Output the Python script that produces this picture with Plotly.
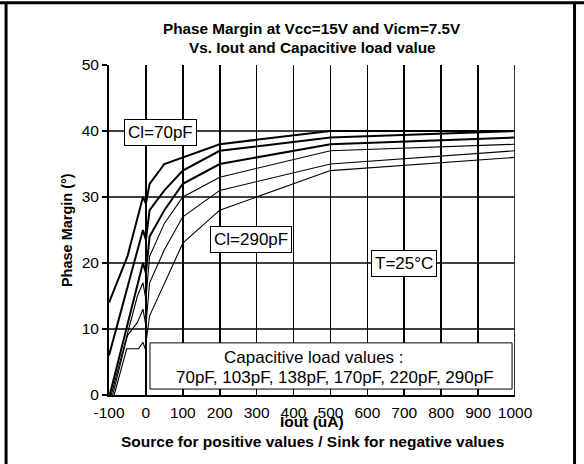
import plotly.graph_objects as go

# ---- data ----
x_70 = [-100, -50, -8, 0, 10, 50, 200, 500, 1000]
y_70 = [14, 21, 30, 29, 32, 35, 38, 40, 40]

x_103 = [-100, -8, 0, 10, 50, 100, 200, 500, 1000]
y_103 = [6, 25, 23.5, 28, 31, 34, 37, 39, 40]

x_138 = [-98, -8, 0, 10, 50, 100, 200, 500, 1000]
y_138 = [0, 20, 18.5, 24, 28, 32, 35, 38, 39]

x_170 = [-94, -23, -8, 0, 10, 50, 100, 200, 500, 1000]
y_170 = [0, 15, 17, 14.5, 21, 26, 30, 33, 37, 38]

x_220 = [-90, -50, -23, -8, 0, 10, 50, 100, 200, 500, 1000]
y_220 = [0, 9, 11, 13, 10.5, 17, 22, 27, 31, 35, 37]

x_290 = [-86, -52, -20, -8, -2, 10, 100, 200, 500, 1000]
y_290 = [0, 7, 7, 8, 7, 12, 23, 28, 34, 36]

series_names = ["70pF", "103pF", "138pF", "170pF", "220pF", "290pF"]
series_x = [x_70, x_103, x_138, x_170, x_220, x_290]
series_y = [y_70, y_103, y_138, y_170, y_220, y_290]
series_width = [2, 2, 2, 1.1, 1.1, 1.1]

x_ticks = [-100, 0, 100, 200, 300, 400, 500, 600, 700, 800, 900, 1000]
x_ticklabels = [str(v) for v in x_ticks]
y_ticks = [0, 10, 20, 30, 40, 50]
y_ticklabels = [str(v) for v in y_ticks]

title_lines = ["Phase Margin at Vcc=15V and Vicm=7.5V", "Vs. Iout and Capacitive load value"]
x_title_lines = ["Iout (uA)", "Source for positive values / Sink for negative values"]
y_title = "Phase Margin (°)"
legend_lines = ["Capacitive load values :", "70pF, 103pF, 138pF, 170pF, 220pF, 290pF"]

FONT = "Arial, Liberation Sans, sans-serif"

fig = go.Figure()
for name, xs, ys, w in zip(series_names, series_x, series_y, series_width):
    fig.add_trace(go.Scatter(x=xs, y=ys, mode="lines", name=name,
                             line=dict(color="black", width=w),
                             showlegend=False, hoverinfo="skip"))

shapes = []
# horizontal grid lines (no line on top edge)
for yv in y_ticks:
    if 0 < yv < 50:
        shapes.append(dict(type="line", xref="paper", yref="y", x0=0, x1=1, y0=yv, y1=yv,
                           line=dict(color="black", width=1.6), layer="below"))
# right border of plot
shapes.append(dict(type="line", xref="x", yref="paper", x0=1000, x1=1000, y0=0, y1=1,
                   line=dict(color="#333333", width=2), layer="below"))
# legend-like box
shapes.append(dict(type="rect", xref="x", yref="y", x0=11, x1=992, y0=0.9, y1=7.9,
                   fillcolor="white", line=dict(color="black", width=1), layer="above"))
# page frame
shapes.append(dict(type="line", xref="paper", yref="paper", x0=-0.3, x1=1.2, y0=1.1888, y1=1.1888,
                   line=dict(color="black", width=3)))
shapes.append(dict(type="line", xref="paper", yref="paper", x0=-0.2535, x1=-0.2535, y0=-0.3, y1=1.19,
                   line=dict(color="black", width=3)))
shapes.append(dict(type="line", xref="paper", yref="paper", x0=1.1466, x1=1.1466, y0=-0.3, y1=1.19,
                   line=dict(color="black", width=3)))

bold_axis = dict(family=FONT, size=15.5, color="black", weight="bold")
bold_y = dict(family=FONT, size=14.5, color="black", weight="bold")
bold_title = dict(family=FONT, size=15.3, color="black", weight="bold")

annotations = []
annotations.append(dict(text=title_lines[0], xref="paper", yref="paper", x=0.5, y=1.1103,
                        showarrow=False, font=bold_title, xanchor="center", yanchor="middle"))
annotations.append(dict(text=title_lines[1], xref="paper", yref="paper", x=0.5, y=1.0538,
                        showarrow=False, font=bold_title, xanchor="center", yanchor="middle"))
annotations.append(dict(text=x_title_lines[0], xref="paper", yref="paper", x=0.5, y=-0.0792,
                        showarrow=False, font=bold_axis, xanchor="center", yanchor="middle"))
annotations.append(dict(text=x_title_lines[1], xref="paper", yref="paper", x=0.5, y=-0.1396,
                        showarrow=False, font=bold_axis, xanchor="center", yanchor="middle"))
annotations.append(dict(text=y_title, xref="paper", yref="paper", x=-0.1033, y=0.5, textangle=-90,
                        showarrow=False, font=bold_y, xanchor="center", yanchor="middle"))

box_style = dict(showarrow=False, bgcolor="white", bordercolor="black", borderwidth=1, borderpad=3,
                 font=dict(family=FONT, size=17, color="black"), xanchor="center", yanchor="middle")
annotations.append(dict(text="Cl=70pF", x=40, y=39.7, **box_style))
annotations.append(dict(text="Cl=290pF", x=285, y=23.5, **box_style))
annotations.append(dict(text="T=25°C", x=700, y=20, **box_style))

annotations.append(dict(text=legend_lines[0], x=456, y=5.75, showarrow=False,
                        font=dict(family=FONT, size=17, color="black"), xanchor="center", yanchor="middle"))
annotations.append(dict(text=legend_lines[1], x=512, y=2.6, showarrow=False,
                        font=dict(family=FONT, size=17, color="black"), xanchor="center", yanchor="middle"))

fig.update_layout(
    width=584, height=464,
    margin=dict(l=109, r=68.5, t=64.5, b=68.5),
    paper_bgcolor="white", plot_bgcolor="white",
    font=dict(family=FONT, color="black"),
    shapes=shapes, annotations=annotations,
    xaxis=dict(range=[-100, 1000], tickvals=x_ticks, ticktext=x_ticklabels,
               showgrid=True, gridcolor="black", gridwidth=1.6,
               showline=True, linecolor="black", linewidth=2,
               ticks="", ticklabelstandoff=2, zeroline=False,
               tickfont=dict(family=FONT, size=15.5, color="black"), fixedrange=True),
    yaxis=dict(range=[0, 50], tickvals=y_ticks, ticktext=y_ticklabels,
               showgrid=False, showline=True, linecolor="black", linewidth=2,
               ticks="outside", ticklen=5, tickwidth=1.5, tickcolor="black", zeroline=False,
               tickfont=dict(family=FONT, size=15.5, color="black"), fixedrange=True),
)

fig.write_html("out.html", config={"staticPlot": True},
               post_script="document.body.style.margin='0';document.body.style.padding='0';")
